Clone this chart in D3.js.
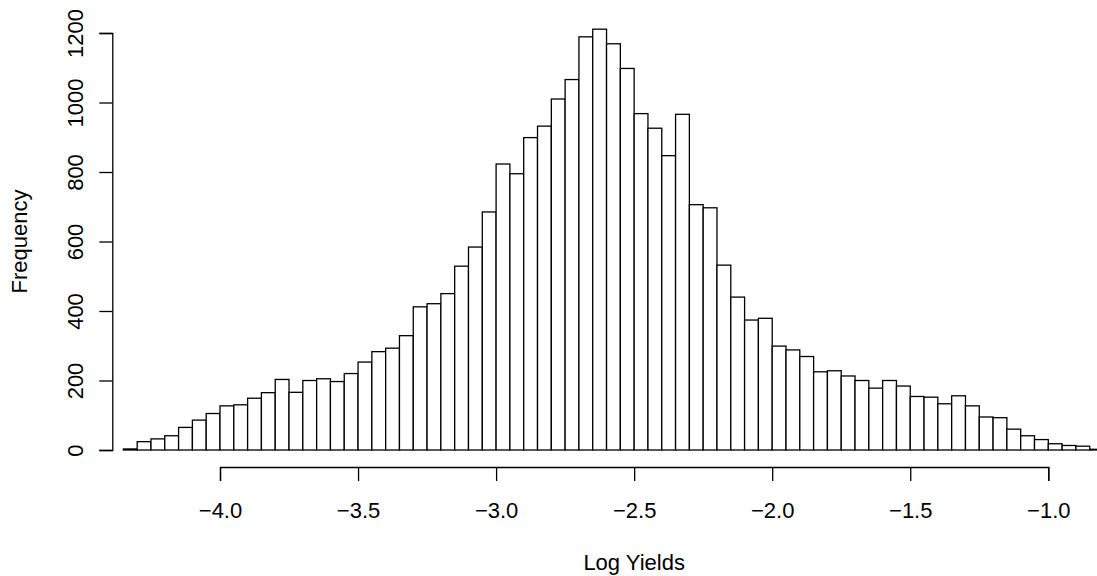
<!DOCTYPE html>
<html>
<head>
<meta charset="utf-8">
<script src="https://cdn.jsdelivr.net/npm/d3@7"></script>
<style>
  html, body { margin: 0; padding: 0; background: #fff; }
  svg { display: block; }
</style>
</head>
<body>
<script>
// ---- data ----
const binStarts = [-4.35,-4.30,-4.25,-4.20,-4.15,-4.10,-4.05,-4.00,-3.95,-3.90,
  -3.85,-3.80,-3.75,-3.70,-3.65,-3.60,-3.55,-3.50,-3.45,-3.40,
  -3.35,-3.30,-3.25,-3.20,-3.15,-3.10,-3.05,-3.00,-2.95,-2.90,
  -2.85,-2.80,-2.75,-2.70,-2.65,-2.60,-2.55,-2.50,-2.45,-2.40,
  -2.35,-2.30,-2.25,-2.20,-2.15,-2.10,-2.05,-2.00,-1.95,-1.90,
  -1.85,-1.80,-1.75,-1.70,-1.65,-1.60,-1.55,-1.50,-1.45,-1.40,
  -1.35,-1.30,-1.25,-1.20,-1.15,-1.10,-1.05,-1.00,-0.95,-0.90,
  -0.85];
const binWidth = 0.05;
const counts = [3,24,32,41,65,86,105,127,130,149,
  165,203,166,200,205,197,220,253,283,293,
  329,412,421,450,529,584,685,823,795,899,
  932,1010,1066,1189,1211,1169,1098,968,926,847,
  966,706,697,532,440,374,379,299,288,269,
  225,228,213,200,178,200,184,154,152,133,
  156,127,95,93,60,41,30,18,13,11,
  2];
const xTicks = [-4.0,-3.5,-3.0,-2.5,-2.0,-1.5,-1.0];
const xTickLabels = ["\u22124.0","\u22123.5","\u22123.0","\u22122.5","\u22122.0","\u22121.5","\u22121.0"];
const yTicks = [0,200,400,600,800,1000,1200];
const yTickLabels = ["0","200","400","600","800","1000","1200"];
const xTitle = "Log Yields";
const yTitle = "Frequency";

// ---- layout ----
const W = 1097, H = 576;
const FONT = "'Liberation Sans', Arial, Helvetica, sans-serif";
const FS = 22;

const svg = d3.select("body").append("svg")
  .attr("width", W).attr("height", H)
  .attr("viewBox", `0 0 ${W} ${H}`);

const x = d3.scaleLinear().domain([-4.0, -1.0]).range([220, 1048.3]);
const y = d3.scaleLinear().domain([0, 1200]).range([450, 33]);

// bars
svg.append("g")
  .selectAll("rect")
  .data(counts)
  .join("rect")
  .attr("x", (d, i) => x(binStarts[i]))
  .attr("width", (d, i) => x(binStarts[i] + binWidth) - x(binStarts[i]))
  .attr("y", d => y(d))
  .attr("height", d => y(0) - y(d))
  .attr("fill", "#fff")
  .attr("stroke", "#000")
  .attr("stroke-width", 1.3);

// x axis
const gx = svg.append("g")
  .attr("transform", "translate(0,467)")
  .call(d3.axisBottom(x).tickValues(xTicks).tickSizeOuter(0).tickSize(14)
        .tickFormat((d, i) => xTickLabels[i]).tickPadding(22));
gx.selectAll("path, line").attr("stroke", "#000").attr("stroke-width", 1.3);
gx.selectAll("text").attr("font-family", FONT).attr("font-size", FS)
  .attr("fill", "#000").attr("dy", null).attr("y", 51 - 0);
gx.attr("font-family", null).attr("font-size", null);

// y axis
const gy = svg.append("g")
  .attr("transform", "translate(112.3,0)")
  .call(d3.axisLeft(y).tickValues(yTicks).tickSizeOuter(0).tickSize(13)
        .tickFormat((d, i) => yTickLabels[i]));
gy.selectAll("path, line").attr("stroke", "#000").attr("stroke-width", 1.3);
gy.selectAll("text")
  .attr("font-family", FONT).attr("font-size", FS).attr("fill", "#000")
  .attr("text-anchor", "middle")
  .attr("dy", null)
  .attr("x", 0)
  .attr("y", -29)
  .attr("transform", "rotate(-90)");
gy.attr("font-family", null).attr("font-size", null);

// titles
svg.append("text")
  .attr("x", x(-2.5)).attr("y", 570)
  .attr("text-anchor", "middle")
  .attr("font-family", FONT).attr("font-size", FS).attr("fill", "#000")
  .text(xTitle);

svg.append("text")
  .attr("transform", `translate(27,${y(600)}) rotate(-90)`)
  .attr("text-anchor", "middle")
  .attr("font-family", FONT).attr("font-size", FS).attr("fill", "#000")
  .text(yTitle);
</script>
</body>
</html>
